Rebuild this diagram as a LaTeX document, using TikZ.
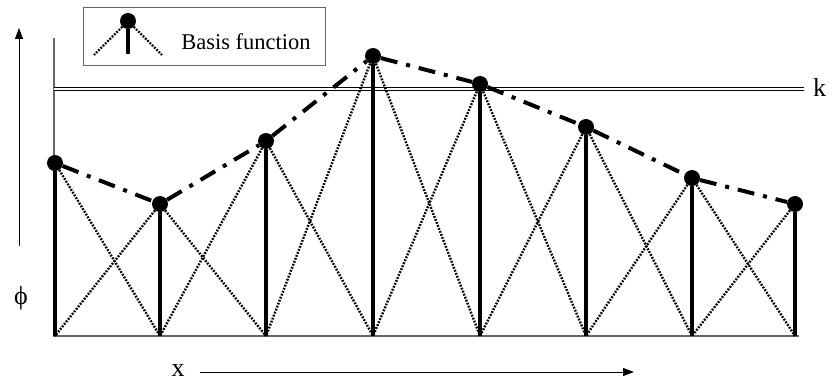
\documentclass[tikz,border=0pt]{standalone}
\usepackage{fontspec}
\setmainfont{Liberation Serif}
\usetikzlibrary{arrows.meta,positioning}
\tikzset{
  knot/.style={circle, fill=black, inner sep=0pt, minimum size=16pt},
  stem/.style={line width=4pt},
  hat/.style={line width=2.4pt, dash pattern=on 1.8pt off 1.4pt},
  trend/.style={line width=4pt, dash pattern=on 17pt off 9pt on 4pt off 9pt},
  axis/.style={-{Triangle[length=11pt,width=8pt]}, line width=1pt},
  frame/.style={draw=black!60, line width=1pt, minimum width=242pt, minimum height=58pt, inner sep=0pt},
  lbl/.style={font=\fontsize{26}{30}\selectfont, inner sep=0pt}
}
\begin{document}
\begin{tikzpicture}[x=1pt, y=-1pt]
\useasboundingbox (0,0) rectangle (836,390);
% legend
\node[frame] (legend) at (204,37) {};
\node[knot] (lknot) at (128,21) {};
\coordinate (lbase) at (128,54);
\coordinate (lleft) at (94,55);
\coordinate (lright) at (162,55);
\draw[stem] (lknot) -- (lbase);
\draw[hat] (lknot) -- (lleft);
\draw[hat] (lknot) -- (lright);
\node[font=\fontsize{22.5}{26}\selectfont, inner sep=0pt] (ltext) at (246,42) {Basis function};
% axes
\coordinate (ytop) at (54,38);
\coordinate (yorig) at (54,336);
\coordinate (xend) at (799,336);
\draw[black!60, line width=1.2pt] (ytop) -- (yorig) -- (xend);
\coordinate (phib) at (19,246);
\coordinate (phit) at (19,28);
\draw[axis] (phib) -- (phit);
\node[lbl] (phi) at (21,298) {ϕ};
\node[lbl] (xlab) at (178,371) {x};
\coordinate (xa) at (200,372);
\coordinate (xb) at (634,372);
\draw[axis] (xa) -- (xb);
% threshold
\coordinate (ka) at (54,89);
\coordinate (kb) at (804,89);
\draw[double, double distance=2pt, line width=1.3pt] (ka) -- (kb);
\node[lbl, anchor=west] (k) at (813,87) {k};
% basis functions
\foreach \i/\xx/\yy in {1/55/163, 2/160/204, 3/266/141, 4/373/56, 5/480/84, 6/586/127, 7/692/178, 8/795/204} {
  \coordinate (b\i) at (\xx,336);
  \node[knot] (t\i) at (\xx,\yy) {};
  \draw[stem] (t\i) -- (b\i);
}
\foreach \i/\j in {1/2, 2/3, 3/4, 4/5, 5/6, 6/7, 7/8} {
  \draw[hat] (t\i) -- (b\j);
  \draw[hat] (t\j) -- (b\i);
  \draw[trend] (t\i) -- (t\j);
}
\end{tikzpicture}
\end{document}
